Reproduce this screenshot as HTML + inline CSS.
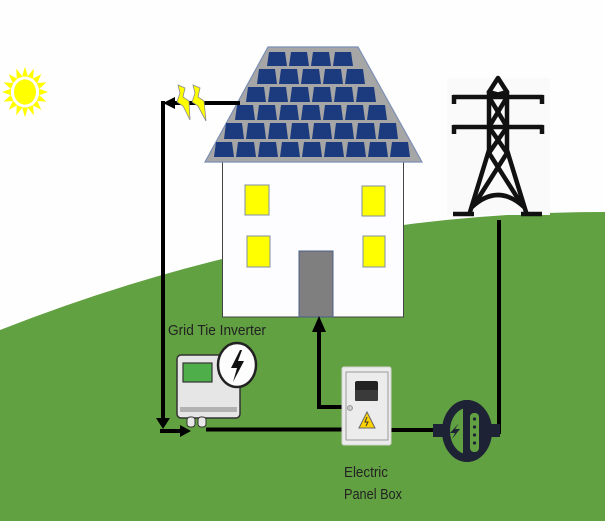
<!DOCTYPE html>
<html><head><meta charset="utf-8"><style>
html,body{margin:0;padding:0;background:#fefefe;}
svg{display:block;}
text{font-family:"Liberation Sans",sans-serif;fill:#222;}
</style></head><body>
<svg width="605" height="521" viewBox="0 0 605 521" xmlns="http://www.w3.org/2000/svg">
<defs>
<clipPath id="mclip"><rect x="463" y="395" width="40" height="75"/></clipPath>
</defs>
<rect width="605" height="521" fill="#fefefe"/>
<!-- hill -->
<path d="M0,330 Q300,212 605,212 L605,521 L0,521 Z" fill="#62a142"/>

<!-- sun -->
<g transform="translate(25,92) scale(1,1.1)" fill="#ffff00">
<ellipse cx="0" cy="0" rx="11" ry="11.5"/>
<g>
<polygon points="-3,-14 3,-14 0,-23" transform="rotate(0)"/>
<polygon points="-3,-14 3,-14 0,-23" transform="rotate(22.5)"/>
<polygon points="-3,-14 3,-14 0,-23" transform="rotate(45)"/>
<polygon points="-3,-14 3,-14 0,-23" transform="rotate(67.5)"/>
<polygon points="-3,-14 3,-14 0,-23" transform="rotate(90)"/>
<polygon points="-3,-14 3,-14 0,-23" transform="rotate(112.5)"/>
<polygon points="-3,-14 3,-14 0,-23" transform="rotate(135)"/>
<polygon points="-3,-14 3,-14 0,-23" transform="rotate(157.5)"/>
<polygon points="-3,-14 3,-14 0,-23" transform="rotate(180)"/>
<polygon points="-3,-14 3,-14 0,-23" transform="rotate(202.5)"/>
<polygon points="-3,-14 3,-14 0,-23" transform="rotate(225)"/>
<polygon points="-3,-14 3,-14 0,-23" transform="rotate(247.5)"/>
<polygon points="-3,-14 3,-14 0,-23" transform="rotate(270)"/>
<polygon points="-3,-14 3,-14 0,-23" transform="rotate(292.5)"/>
<polygon points="-3,-14 3,-14 0,-23" transform="rotate(315)"/>
<polygon points="-3,-14 3,-14 0,-23" transform="rotate(337.5)"/>
</g>
</g>

<!-- tower background -->
<rect x="447" y="78" width="103" height="137" fill="#fafafa"/>

<!-- house body -->
<rect x="222.5" y="155" width="181" height="162" fill="#fdfdff" stroke="#444" stroke-width="1"/>
<rect x="245" y="185" width="24" height="30" fill="#ffff00" stroke="#7f8fa8" stroke-width="1"/>
<rect x="362" y="186" width="23" height="30" fill="#ffff00" stroke="#7f8fa8" stroke-width="1"/>
<rect x="247" y="236" width="23" height="31" fill="#ffff00" stroke="#7f8fa8" stroke-width="1"/>
<rect x="363" y="236" width="22" height="31" fill="#ffff00" stroke="#7f8fa8" stroke-width="1"/>
<rect x="299" y="251" width="34" height="66" fill="#7f7f7f" stroke="#4a5f8a" stroke-width="1"/>

<!-- roof -->
<polygon points="268,47 358,47 422,162 205,162" fill="#a6a6a6" stroke="#7b8fb5" stroke-width="1.2"/>
<g fill="#1c3a7e">
<polygon points="269,52 285,52 287,66 267,66"/>
<polygon points="291,52 307,52 309,66 289,66"/>
<polygon points="313,52 329,52 331,66 311,66"/>
<polygon points="335,52 351,52 353,66 333,66"/>
<polygon points="259,69 275,69 277,84 257,84"/>
<polygon points="281,69 297,69 299,84 279,84"/>
<polygon points="303,69 319,69 321,84 301,84"/>
<polygon points="325,69 341,69 343,84 323,84"/>
<polygon points="347,69 363,69 365,84 345,84"/>
<polygon points="248,87 264,87 266,102 246,102"/>
<polygon points="270,87 286,87 288,102 268,102"/>
<polygon points="292,87 308,87 310,102 290,102"/>
<polygon points="314,87 330,87 332,102 312,102"/>
<polygon points="336,87 352,87 354,102 334,102"/>
<polygon points="358,87 374,87 376,102 356,102"/>
<polygon points="237,105 253,105 255,120 235,120"/>
<polygon points="259,105 275,105 277,120 257,120"/>
<polygon points="281,105 297,105 299,120 279,120"/>
<polygon points="303,105 319,105 321,120 301,120"/>
<polygon points="325,105 341,105 343,120 323,120"/>
<polygon points="347,105 363,105 365,120 345,120"/>
<polygon points="369,105 385,105 387,120 367,120"/>
<polygon points="226,123 242,123 244,139 224,139"/>
<polygon points="248,123 264,123 266,139 246,139"/>
<polygon points="270,123 286,123 288,139 268,139"/>
<polygon points="292,123 308,123 310,139 290,139"/>
<polygon points="314,123 330,123 332,139 312,139"/>
<polygon points="336,123 352,123 354,139 334,139"/>
<polygon points="358,123 374,123 376,139 356,139"/>
<polygon points="380,123 396,123 398,139 378,139"/>
<polygon points="216,142 232,142 234,157 214,157"/>
<polygon points="238,142 254,142 256,157 236,157"/>
<polygon points="260,142 276,142 278,157 258,157"/>
<polygon points="282,142 298,142 300,157 280,157"/>
<polygon points="304,142 320,142 322,157 302,157"/>
<polygon points="326,142 342,142 344,157 324,157"/>
<polygon points="348,142 364,142 366,157 346,157"/>
<polygon points="370,142 386,142 388,157 368,157"/>
<polygon points="392,142 408,142 410,157 390,157"/>
</g>

<!-- wires -->
<g stroke="#000" stroke-width="4" fill="none">
<path d="M240,103 H172"/>
<path d="M163,101 V419"/>
<path d="M160,431 H181"/>
<path d="M206,429.5 H342"/>
<path d="M342,407 H319 V330"/>
<path d="M391,430 H434"/>
<path d="M492,432 H499 V220"/>
</g>
<g fill="#000">
<polygon points="163,103 175,97 175,109"/>
<polygon points="156,418 170,418 163,429"/>
<polygon points="180,425 180,437 191,431"/>
<polygon points="312,332 326,332 319,316"/>
</g>

<!-- bolts -->
<g fill="#ffff00" stroke="#8a8a8a" stroke-width="0.8">
<polygon points="178,85 185,88 183,97 189,101 190,120 183,106 177,102 180,93"/>
<polygon points="193,85 200,88 198,97 204,101 206,121 198,106 192,102 195,93"/>
</g>

<!-- tower -->
<g stroke="#111" stroke-width="4.5" fill="none" stroke-linecap="round" stroke-linejoin="round">
<path d="M489,92 L498,78 L507,92"/>
<path d="M489,92 V150 L470,212"/>
<path d="M507,92 V150 L526,212"/>
<path d="M489,97 L507,127 M507,97 L489,127"/>
<path d="M489,127 L507,153 M507,127 L489,153"/>
<path d="M489,153 L522,205 M507,153 L474,205"/>
<path d="M472,207 Q498,183 524,207"/>
<path d="M489,92 L507,97 M507,92 L489,97"/>
</g>
<g stroke="#111" stroke-width="4.5" fill="none" stroke-linecap="butt">
<path d="M453,97 H543"/>
<path d="M453,127 H543"/>
<path d="M454,95 V104 M542,95 V104 M454,125 V134 M542,125 V134"/>
<path d="M453,214 H474 M521,214 H542"/>
</g>

<!-- inverter -->
<rect x="177" y="355" width="63" height="63" rx="4" fill="#e6e6e6" stroke="#333" stroke-width="1.5"/>
<rect x="183" y="363" width="29" height="19" fill="#4dae4a" stroke="#333" stroke-width="1.2"/>
<rect x="180" y="407" width="57" height="5" fill="#b2b2b2"/>
<rect x="187" y="417" width="8" height="10" rx="3" fill="#e8e8e8" stroke="#333" stroke-width="1"/>
<rect x="198" y="417" width="8" height="10" rx="3" fill="#e8e8e8" stroke="#333" stroke-width="1"/>
<ellipse cx="237" cy="365" rx="19" ry="22" fill="#fdfdfd" stroke="#222" stroke-width="2.5"/>
<polygon points="240,350 231,368 237,368 233,382 244,361 238,361 242,350" fill="#111"/>

<!-- panel box -->
<rect x="342" y="367" width="49" height="78" rx="2" fill="#ececec" stroke="#d2d2d2" stroke-width="1"/>
<rect x="346" y="372" width="42" height="68" fill="none" stroke="#9a9a9a" stroke-width="1"/>
<rect x="355" y="381" width="23" height="20" rx="2" fill="#222"/>
<rect x="355" y="390" width="23" height="11" rx="1" fill="#3a3a3a"/>
<circle cx="350" cy="408" r="2.5" fill="#c8c8c8" stroke="#888" stroke-width="0.8"/>
<polygon points="367,412 359,428 375,428" fill="#ffd200" stroke="#666" stroke-width="1"/>
<path d="M367,417 L365,422 L368,422 L366,426" stroke="#333" stroke-width="1" fill="none"/>

<!-- meter -->
<rect x="433" y="424" width="13" height="13" fill="#1e2235"/>
<rect x="488" y="424" width="12" height="13" fill="#1e2235"/>
<ellipse cx="467" cy="431" rx="25" ry="31" fill="#1e2235" clip-path="url(#mclip)"/>
<ellipse cx="467" cy="431" rx="21" ry="27" fill="none" stroke="#1e2235" stroke-width="8"/>
<rect x="470" y="413" width="9" height="39" rx="4" fill="#62a142"/>
<g fill="#1e2235">
<circle cx="474.5" cy="419" r="1.6"/>
<circle cx="474.5" cy="427" r="1.6"/>
<circle cx="474.5" cy="435" r="1.6"/>
<circle cx="474.5" cy="443" r="1.6"/>
<polygon points="459,423 450,433 455,433 452,439 460,429 455,429"/>
</g>

<!-- labels -->
<text x="168" y="335" font-size="15" textLength="98" lengthAdjust="spacingAndGlyphs">Grid Tie Inverter</text>
<text x="344" y="477" font-size="15" textLength="44" lengthAdjust="spacingAndGlyphs">Electric</text>
<text x="344" y="499" font-size="15" textLength="58" lengthAdjust="spacingAndGlyphs">Panel Box</text>
</svg>
</body></html>
